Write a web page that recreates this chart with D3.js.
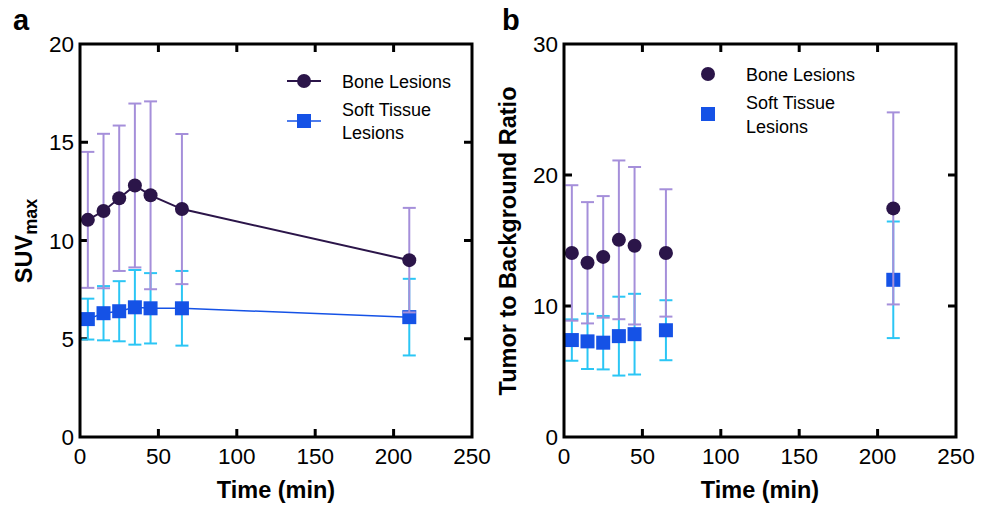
<html>
<head>
<meta charset="utf-8">
<script src="https://cdn.jsdelivr.net/npm/d3@7"></script>
<style>
  body { margin: 0; background: #fff; }
  text { font-family: Arial, "Liberation Sans", sans-serif; }
</style>
</head>
<body>
<div id="chart"></div>
<script>
// Data
var times = [5, 15, 25, 35, 45, 65, 210];
var xTicks = [0, 50, 100, 150, 200, 250];

// panel a: SUVmax (mean, SD)
var suvBone = [11.05, 11.5, 12.15, 12.8, 12.3, 11.6, 9.0];
var suvBoneSD = [3.46, 3.93, 3.7, 4.17, 4.78, 3.82, 2.66];
var suvSoft = [6.0, 6.3, 6.4, 6.6, 6.55, 6.55, 6.1];
var suvSoftSD = [1.04, 1.38, 1.53, 1.9, 1.79, 1.9, 1.95];
var suvTicks = [0, 5, 10, 15, 20];

// panel b: tumor to background ratio (mean, SD)
var tbrBone = [14.05, 13.3, 13.75, 15.05, 14.6, 14.05, 17.45];
var tbrBoneSD = [5.17, 4.63, 4.64, 6.06, 6.01, 4.86, 7.33];
var tbrSoft = [7.4, 7.3, 7.2, 7.7, 7.85, 8.15, 12.0];
var tbrSoftSD = [1.58, 2.11, 2.04, 3.01, 3.08, 2.29, 4.45];
var tbrTicks = [0, 10, 20, 30];

var legendLabels = ["Bone Lesions", ["Soft Tissue", "Lesions"]];

var boneColor = "#2b1549",
    boneErr = "#a58fda",
    softColor = "#1552e6",
    softErr = "#2bc6f5";

var svg = d3.select("#chart").append("svg")
  .attr("width", 989)
  .attr("height", 507);

function drawPanel(opt) {
  var g = svg.append("g");
  var x = d3.scaleLinear().domain([0, 250]).range([opt.left, opt.left + 392]);
  var y = d3.scaleLinear().domain([0, opt.ymax]).range([437, 44]);

  // inward ticks on all four sides
  var tl = 8;
  g.selectAll(".xtb").data(xTicks.slice(1, -1)).enter().append("line")
    .attr("x1", d => x(d)).attr("x2", d => x(d))
    .attr("y1", 437).attr("y2", 437 - tl)
    .attr("stroke", "#000").attr("stroke-width", 3);
  g.selectAll(".xtt").data(xTicks.slice(1, -1)).enter().append("line")
    .attr("x1", d => x(d)).attr("x2", d => x(d))
    .attr("y1", 44).attr("y2", 44 + tl)
    .attr("stroke", "#000").attr("stroke-width", 3);
  g.selectAll(".ytl").data(opt.ticks.slice(1, -1)).enter().append("line")
    .attr("x1", opt.left).attr("x2", opt.left + tl)
    .attr("y1", d => y(d)).attr("y2", d => y(d))
    .attr("stroke", "#000").attr("stroke-width", 3);
  g.selectAll(".ytr").data(opt.ticks.slice(1, -1)).enter().append("line")
    .attr("x1", opt.left + 392).attr("x2", opt.left + 392 - tl)
    .attr("y1", d => y(d)).attr("y2", d => y(d))
    .attr("stroke", "#000").attr("stroke-width", 3);

  // tick labels
  g.selectAll(".xl").data(xTicks).enter().append("text")
    .attr("x", d => x(d)).attr("y", 464)
    .attr("text-anchor", "middle").attr("font-size", "22.5px")
    .text(d => d);
  g.selectAll(".yl").data(opt.ticks).enter().append("text")
    .attr("x", opt.left - 6).attr("y", d => y(d)).attr("dy", "0.36em")
    .attr("text-anchor", "end").attr("font-size", "22.5px")
    .text(d => d);

  // error bars + markers
  function errBars(means, sds, color) {
    var e = g.append("g").attr("stroke", color).attr("stroke-width", 2);
    means.forEach(function(m, i) {
      var cx = x(times[i]), lo = y(m - sds[i]), hi = y(m + sds[i]);
      e.append("line").attr("x1", cx).attr("x2", cx).attr("y1", lo).attr("y2", hi);
      e.append("line").attr("x1", cx - 6.5).attr("x2", cx + 6.5).attr("y1", lo).attr("y2", lo);
      e.append("line").attr("x1", cx - 6.5).attr("x2", cx + 6.5).attr("y1", hi).attr("y2", hi);
    });
  }
  var line = d3.line().x((d, i) => x(times[i])).y(d => y(d));

  errBars(opt.soft, opt.softSD, softErr);
  if (opt.lines) {
    g.append("path").datum(opt.soft).attr("d", line)
      .attr("fill", "none").attr("stroke", softColor).attr("stroke-width", 1.5);
  }
  g.selectAll(".sq").data(opt.soft).enter().append("rect")
    .attr("x", (d, i) => x(times[i]) - 7).attr("y", d => y(d) - 7)
    .attr("width", 14).attr("height", 14).attr("fill", softColor);

  errBars(opt.bone, opt.boneSD, boneErr);
  if (opt.lines) {
    g.append("path").datum(opt.bone).attr("d", line)
      .attr("fill", "none").attr("stroke", boneColor).attr("stroke-width", 2);
  }
  g.selectAll(".ci").data(opt.bone).enter().append("circle")
    .attr("cx", (d, i) => x(times[i])).attr("cy", d => y(d))
    .attr("r", 7).attr("fill", boneColor);

  // frame
  g.append("rect")
    .attr("x", opt.left).attr("y", 44).attr("width", 392).attr("height", 393)
    .attr("fill", "none").attr("stroke", "#000").attr("stroke-width", 3);

  // legend
  var lg = g.append("g");
  var mx = opt.legX, tx = opt.legTextX;
  if (opt.lines) {
    lg.append("line").attr("x1", mx - 17).attr("x2", mx + 17)
      .attr("y1", opt.legY[0]).attr("y2", opt.legY[0])
      .attr("stroke", boneColor).attr("stroke-width", 2);
    lg.append("line").attr("x1", mx - 17).attr("x2", mx + 17)
      .attr("y1", opt.legY[1]).attr("y2", opt.legY[1])
      .attr("stroke", softColor).attr("stroke-width", 1.5);
  }
  lg.append("circle").attr("cx", mx).attr("cy", opt.legY[0]).attr("r", 7).attr("fill", boneColor);
  lg.append("rect").attr("x", mx - 7).attr("y", opt.legY[1] - 7)
    .attr("width", 14).attr("height", 14).attr("fill", softColor);
  lg.append("text").attr("x", tx).attr("y", opt.legTextY[0])
    .attr("font-size", "18px").text(legendLabels[0]);
  lg.append("text").attr("x", tx).attr("y", opt.legTextY[1])
    .attr("font-size", "18px").text(legendLabels[1][0]);
  lg.append("text").attr("x", tx).attr("y", opt.legTextY[2])
    .attr("font-size", "18px").text(legendLabels[1][1]);

  // axis titles
  g.append("text")
    .attr("x", opt.left + 196).attr("y", 498)
    .attr("text-anchor", "middle").attr("font-size", "23.5px").attr("font-weight", "bold")
    .text("Time (min)");
  var yt = g.append("text")
    .attr("transform", "translate(" + opt.ytX + ",241) rotate(-90)")
    .attr("text-anchor", "middle").attr("font-size", "23.5px").attr("font-weight", "bold");
  yt.append("tspan").text(opt.ytitle);
  if (opt.ysub) {
    yt.append("tspan").attr("font-size", "18px").attr("dy", 5).text(opt.ysub);
  }

  // panel letter
  g.append("text").attr("x", opt.letterX).attr("y", 30)
    .attr("font-size", "29px").attr("font-weight", "bold").text(opt.letter);
}

drawPanel({
  left: 80, ymax: 20, ticks: suvTicks,
  bone: suvBone, boneSD: suvBoneSD, soft: suvSoft, softSD: suvSoftSD,
  lines: true,
  legX: 304, legTextX: 342, legY: [81, 121], legTextY: [88, 116, 139],
  ytitle: "SUV", ysub: "max", ytX: 32,
  letter: "a", letterX: 13
});

drawPanel({
  left: 564, ymax: 30, ticks: tbrTicks,
  bone: tbrBone, boneSD: tbrBoneSD, soft: tbrSoft, softSD: tbrSoftSD,
  lines: false,
  legX: 708, legTextX: 746, legY: [74, 114], legTextY: [81, 109, 133],
  ytitle: "Tumor to Background Ratio", ytX: 516,
  letter: "b", letterX: 502
});
</script>
</body>
</html>
